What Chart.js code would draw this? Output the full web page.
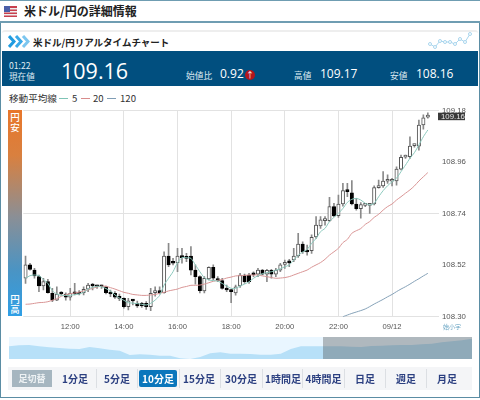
<!DOCTYPE html>
<html lang="ja">
<head>
<meta charset="utf-8">
<script src="https://cdn.jsdelivr.net/npm/chart.js@4"></script>
<style>
html,body{margin:0;padding:0;background:#fff;width:480px;height:400px;overflow:hidden;font-family:"Noto Sans CJK JP","Noto Sans",sans-serif;}
.abs{position:absolute;white-space:nowrap;}
#topline{left:0;top:0;width:480px;height:1px;background:#6f9db2;}
#titleline{left:0;top:21px;width:480px;height:2px;background:#6f9db2;}
#title{left:24px;top:2px;font-size:12px;font-weight:700;color:#222;line-height:18px;}
#frame{left:0;top:23px;width:478px;height:374px;border:1px solid #5b8da4;border-top:none;box-sizing:content-box;}
#card{left:2px;top:30px;width:476px;height:22px;background:#fff;border-top:2px solid #eee;border-radius:3px 3px 0 0;box-sizing:border-box;}
#cardtitle{left:33px;top:35px;font-size:9.5px;font-weight:700;color:#222;line-height:14px;}
#band{left:2px;top:51px;width:476px;height:35px;background:#014f7f;}
#time{left:9px;top:60px;font-size:8.6px;line-height:11px;color:#dfeaf2;}
#now{left:61px;top:57px;font-size:21.5px;line-height:27px;font-family:"Open Sans",sans-serif;color:#fff;}
.lab{font-size:8.7px;line-height:11px;color:#dfeaf2;top:70px;}
.num{font-size:12px;line-height:14px;color:#fff;top:67px;font-family:"Open Sans",sans-serif;}
#up{left:245px;top:70px;width:10px;height:10px;border-radius:50%;background:#b3161d;color:#fff;font-size:8px;line-height:10px;text-align:center;}
#legend{left:9px;top:91px;font-size:9.6px;line-height:14px;color:#333;}
.sw{position:absolute;top:98px;height:1px;width:9px;}
.lv{top:91px;font-size:9.6px;line-height:14px;color:#333;}
#main{left:0;top:100px;width:480px;height:235px;}
#main canvas,#nav canvas{display:block;}
#scale{left:8px;top:110px;width:14px;height:206px;background:linear-gradient(#e8772b 0%,#d9803f 22%,#8a8f96 52%,#4a94c4 78%,#2f9fe6 100%);}
.yen{left:8px;width:14px;text-align:center;color:#fff;font-size:9.5px;line-height:10px;white-space:normal;font-weight:500;}
#hide{left:443px;top:322px;font-size:6px;line-height:9px;color:#6ba6c4;}
#nav{left:9px;top:337px;width:463px;height:22px;background:#e9f6ff;}
#win{left:323px;top:337px;width:149px;height:22px;background:rgba(70,70,70,.35);}
#bar{left:8px;top:367px;width:464px;height:23px;background:#f4f5f7;}
.btn{top:370px;height:17px;line-height:17px;font-size:10px;font-weight:700;color:#2b3f80;text-align:center;}
.sep{top:369px;height:19px;width:1px;background:#dcdfe3;}
</style>
</head>
<body>
<div class="abs" id="topline"></div>
<div class="abs" id="titleline"></div>
<svg class="abs" style="left:4px;top:6px" width="13" height="11"><rect width="13" height="11" fill="#c8404e"/><rect y="2" width="13" height="1.5" fill="#eee"/><rect y="5" width="13" height="1.5" fill="#eee"/><rect y="8" width="13" height="1.5" fill="#eee"/><rect width="6" height="6" fill="#4a5fa8"/></svg>
<div class="abs" id="title">米ドル/円の詳細情報</div>
<div class="abs" id="frame"></div>
<div class="abs" id="card"></div>
<svg class="abs" style="left:8px;top:35px" width="22" height="13"><g fill="none" stroke="#1f9be0" stroke-width="3"><path d="M1 1l5 5.5-5 5.5"/><path d="M8 1l5 5.5-5 5.5" stroke="#3aa9e8"/><path d="M15 1l5 5.5-5 5.5" stroke="#7cc6ef"/></g></svg>
<div class="abs" id="cardtitle">米ドル/円リアルタイムチャート</div>
<svg class="abs" style="left:428px;top:31px" width="48" height="18"><path d="M2 13l5 3 5-6 5 1 5 0 5 2 5-5 5 3 5-8" fill="none" stroke="#a9d6ee" stroke-width="1"/><g fill="#fff" stroke="#a9d6ee"><circle cx="2" cy="13" r="1.5"/><circle cx="7" cy="16" r="1.5"/><circle cx="12" cy="10" r="1.5"/><circle cx="17" cy="11" r="1.5"/><circle cx="22" cy="11" r="1.5"/><circle cx="27" cy="13" r="1.5"/><circle cx="32" cy="8" r="1.5"/><circle cx="37" cy="11" r="1.5"/><circle cx="42" cy="3" r="1.5"/></g></svg>
<div class="abs" id="band"></div>
<div class="abs" id="time">01:22<br>現在値</div>
<div class="abs" id="now">109.16</div>
<div class="abs lab" style="left:186px">始値比</div>
<div class="abs num" style="left:220px">0.92</div>
<div class="abs" id="up">↑</div>
<div class="abs lab" style="left:294px">高値</div>
<div class="abs num" style="left:320px">109.17</div>
<div class="abs lab" style="left:390px">安値</div>
<div class="abs num" style="left:416px">108.16</div>
<div class="abs" id="legend">移動平均線</div>
<div class="sw" style="left:59px;background:#7fc4b6"></div><div class="abs lv" style="left:72px">5</div>
<div class="sw" style="left:81px;background:#d98c8c"></div><div class="abs lv" style="left:93px">20</div>
<div class="sw" style="left:107px;background:#7f9db5"></div><div class="abs lv" style="left:120px">120</div>
<div class="abs" id="main"><canvas id="c" width="480" height="235"></canvas></div>
<div class="abs" id="scale"></div>
<div class="abs yen" style="top:112px">円<br>安</div>
<div class="abs yen" style="top:294px">円<br>高</div>
<div class="abs" id="hide">始小字</div>
<div class="abs" id="nav"><canvas id="n" width="463" height="22"></canvas></div>
<div class="abs" id="win"></div>
<div class="abs" id="bar"></div>
<div class="abs btn" style="left:12px;width:40px;background:#a6b6c0;color:#eef2f4;font-size:9px;">足切替</div>
<div class="abs btn" style="left:55px;width:40px;">1分足</div>
<div class="abs btn" style="left:97px;width:40px;">5分足</div>
<div class="abs btn" style="left:139px;width:38px;background:#0a76bc;color:#fff;border-radius:2px;">10分足</div>
<div class="abs btn" style="left:179px;width:40px;">15分足</div>
<div class="abs btn" style="left:221px;width:40px;">30分足</div>
<div class="abs btn" style="left:263px;width:40px;">1時間足</div>
<div class="abs btn" style="left:303px;width:41px;">4時間足</div>
<div class="abs btn" style="left:345px;width:40px;">日足</div>
<div class="abs btn" style="left:386px;width:40px;">週足</div>
<div class="abs btn" style="left:427px;width:40px;">月足</div>
<div class="abs sep" style="left:96px"></div><div class="abs sep" style="left:137px"></div><div class="abs sep" style="left:179px"></div><div class="abs sep" style="left:220px"></div><div class="abs sep" style="left:262px"></div><div class="abs sep" style="left:302px"></div><div class="abs sep" style="left:344px"></div><div class="abs sep" style="left:385px"></div><div class="abs sep" style="left:426px"></div>
<script>
const categories=['10:20','10:30','10:40','10:50','11:00','11:10','11:20','11:30','11:40','11:50','12:00','12:10','12:20','12:30','12:40','12:50','13:00','13:10','13:20','13:30','13:40','13:50','14:00','14:10','14:20','14:30','14:40','14:50','15:00','15:10','15:20','15:30','15:40','15:50','16:00','16:10','16:20','16:30','16:40','16:50','17:00','17:10','17:20','17:30','17:40','17:50','18:00','18:10','18:20','18:30','18:40','18:50','19:00','19:10','19:20','19:30','19:40','19:50','20:00','20:10','20:20','20:30','20:40','20:50','21:00','21:10','21:20','21:30','21:40','21:50','22:00','22:10','22:20','22:30','22:40','22:50','23:00','23:10','23:20','23:30','23:40','23:50','09/12','00:10','00:20','00:30','00:40','00:50','01:00','01:10','01:20','',''];
const tickLabels=['12:00','14:00','16:00','18:00','20:00','22:00','09/12'];
const yTicks=[108.30,108.52,108.74,108.96,109.18];
const gridTicks=[108.30,108.74,109.18];
const opens=[108.464,108.521,108.499,108.471,108.431,108.450,108.400,108.371,108.400,108.397,108.383,108.400,108.399,108.403,108.418,108.438,108.430,108.429,108.428,108.403,108.400,108.383,108.378,108.343,108.369,108.357,108.357,108.357,108.343,108.403,108.410,108.403,108.559,108.530,108.530,108.559,108.556,108.559,108.499,108.471,108.410,108.461,108.511,108.459,108.454,108.418,108.414,108.402,108.431,108.478,108.478,108.482,108.482,108.499,108.482,108.498,108.482,108.499,108.523,108.535,108.542,108.559,108.610,108.582,108.582,108.641,108.687,108.710,108.710,108.770,108.731,108.781,108.841,108.829,108.781,108.761,108.775,108.775,108.781,108.851,108.858,108.878,108.878,108.879,108.930,108.981,108.983,109.030,109.028,109.118,109.152];
const closes=[108.521,108.502,108.474,108.431,108.450,108.403,108.371,108.397,108.397,108.383,108.400,108.398,108.397,108.417,108.435,108.431,108.428,108.428,108.403,108.397,108.383,108.378,108.343,108.368,108.367,108.346,108.346,108.343,108.400,108.411,108.403,108.559,108.521,108.528,108.559,108.552,108.549,108.499,108.471,108.411,108.464,108.511,108.464,108.454,108.421,108.414,108.407,108.428,108.478,108.449,108.449,108.479,108.499,108.482,108.498,108.482,108.499,108.521,108.532,108.530,108.559,108.610,108.577,108.576,108.639,108.691,108.713,108.713,108.770,108.730,108.781,108.838,108.834,108.781,108.761,108.779,108.778,108.778,108.851,108.858,108.879,108.881,108.881,108.930,108.980,108.984,109.028,109.033,109.118,109.149,109.160];
const highs=[108.559,108.528,108.506,108.478,108.464,108.459,108.421,108.428,108.407,108.402,108.421,108.442,108.411,108.428,108.442,108.442,108.435,108.435,108.431,108.414,108.407,108.397,108.381,108.378,108.374,108.367,108.361,108.364,108.421,108.428,108.428,108.577,108.613,108.549,108.592,108.592,108.570,108.599,108.521,108.474,108.471,108.513,108.521,108.471,108.464,108.435,108.417,108.435,108.485,108.482,108.485,108.492,108.506,108.502,108.502,108.502,108.506,108.528,108.542,108.545,108.592,108.656,108.620,108.606,108.649,108.727,108.727,108.727,108.809,108.784,108.819,108.869,108.869,108.881,108.805,108.787,108.784,108.784,108.858,108.883,108.919,108.905,108.891,108.940,108.990,108.990,109.068,109.037,109.139,109.161,109.170];
const lows=[108.442,108.499,108.464,108.407,108.414,108.400,108.364,108.368,108.393,108.371,108.371,108.393,108.393,108.393,108.407,108.414,108.421,108.421,108.397,108.385,108.378,108.368,108.336,108.329,108.350,108.340,108.340,108.331,108.326,108.388,108.397,108.400,108.513,108.521,108.492,108.528,108.535,108.478,108.439,108.402,108.402,108.457,108.457,108.449,108.417,108.407,108.360,108.392,108.425,108.442,108.442,108.471,108.471,108.478,108.449,108.464,108.471,108.492,108.506,108.513,108.535,108.553,108.570,108.563,108.570,108.634,108.677,108.691,108.706,108.727,108.724,108.772,108.812,108.777,108.755,108.720,108.770,108.741,108.777,108.848,108.852,108.869,108.858,108.861,108.926,108.976,108.976,109.023,109.011,109.100,109.147];
const ma5=[108.464,108.475,108.478,108.475,108.459,108.442,108.411,108.397,108.391,108.391,108.391,108.394,108.397,108.404,108.418,108.425,108.430,108.428,108.420,108.410,108.393,108.380,108.370,108.360,108.358,108.356,108.353,108.350,108.357,108.371,108.391,108.435,108.464,108.492,108.530,108.552,108.552,108.549,108.521,108.492,108.467,108.457,108.454,108.452,108.442,108.431,108.421,108.421,108.431,108.439,108.449,108.464,108.475,108.484,108.488,108.492,108.498,108.505,108.513,108.521,108.542,108.562,108.576,108.587,108.613,108.634,108.663,108.677,108.706,108.724,108.741,108.762,108.788,108.801,108.805,108.798,108.784,108.777,108.784,108.812,108.838,108.859,108.876,108.891,108.919,108.947,108.976,109.000,109.033,109.068,109.097];
const ma20=[108.353,108.354,108.357,108.360,108.361,108.364,108.370,108.377,108.387,108.394,108.398,108.401,108.405,108.410,108.415,108.421,108.427,108.430,108.430,108.424,108.418,108.411,108.404,108.400,108.395,108.393,108.391,108.391,108.393,108.395,108.400,108.404,108.410,108.414,108.418,108.425,108.429,108.434,108.434,108.435,108.439,108.445,108.451,108.455,108.459,108.465,108.469,108.474,108.475,108.476,108.478,108.478,108.478,108.474,108.471,108.467,108.464,108.465,108.467,108.471,108.478,108.485,108.492,108.499,108.511,108.521,108.531,108.545,108.563,108.577,108.592,108.616,108.630,108.656,108.667,108.676,108.694,108.706,108.724,108.737,108.755,108.770,108.781,108.798,108.812,108.827,108.841,108.858,108.879,108.897,108.915];
const ma120=[null,null,null,null,null,null,null,null,null,null,null,null,null,null,null,null,null,null,null,null,null,null,null,null,null,null,null,null,null,null,null,null,null,null,null,null,null,null,null,null,null,null,null,null,null,null,null,null,null,null,null,null,null,null,null,null,null,null,null,null,null,null,null,null,null,null,null,null,null,null,null,108.300,108.307,108.314,108.320,108.326,108.333,108.343,108.354,108.364,108.374,108.385,108.395,108.407,108.418,108.428,108.439,108.451,108.462,108.474,108.485];
const overview=[38,41,42,38,35,33,31,30,36,32,28,25,12,14,13,10,10,2,0,6,17,20,16,16,15,13,13,16,30,38,38,38,38,38,37,36,39,40,41,42,42,44,46,50,53,56,61];
const currentPrice=109.16;

const bodies=opens.map((o,i)=>[o,closes[i]]);
const wicks=highs.map((h,i)=>[lows[i],h]);
const priceTag={id:'priceTag',afterDraw(ch){
  const y=ch.scales.y.getPixelForValue(currentPrice),x=ch.chartArea.right-1,g=ch.ctx;
  g.save();g.fillStyle='#3a3a3a';g.fillRect(x,y-2.5,27,7.5);
  g.fillStyle='#e8e8e8';g.font='7.8px "Liberation Sans"';g.textBaseline='middle';g.textAlign='left';
  g.fillText(currentPrice.toFixed(2),x+3,y+1.3);g.restore();
}};
const line=(d,c)=>({type:'line',data:d,borderColor:c,borderWidth:1,pointRadius:0,tension:0.25,order:0,spanGaps:false});
new Chart(document.getElementById('c'),{
  data:{labels:categories,datasets:[
    {type:'bar',data:wicks,backgroundColor:'#8a8a8a',borderWidth:0,barThickness:1,grouped:false,order:3},
    {type:'bar',data:bodies,backgroundColor:opens.map((o,i)=>closes[i]>=o?'#fff':'#000'),borderColor:opens.map((o,i)=>closes[i]>=o?'#555':'#000'),borderWidth:1,borderSkipped:false,barThickness:3.4,minBarLength:2,grouped:false,order:2},
    line(ma5,'#8cc9bd'),line(ma20,'#d99595'),line(ma120,'#86a2b8')
  ]},
  plugins:[priceTag],
  options:{responsive:false,animation:false,events:[],
    layout:{padding:{left:23.3,right:0,top:10.5,bottom:0}},
    plugins:{legend:{display:false},tooltip:{enabled:false}},
    scales:{
      x:{offset:true,border:{display:false},
        grid:{offset:false,drawTicks:false,color:c=>c.tick&&tickLabels.includes(categories[c.index])?'#e2e2e2':'rgba(0,0,0,0)'},
        afterFit:s=>{s.height=18.3;},
        ticks:{autoSkip:false,maxRotation:0,padding:6,color:'#555',font:{family:'"Liberation Sans"',size:7.6},
          callback:(v,i)=>tickLabels.includes(categories[i])?categories[i]:''}},
      y:{position:'right',min:108.30,max:109.18,border:{display:false},
        afterBuildTicks:s=>{s.ticks=yTicks.map(v=>({value:v}));},
        afterFit:s=>{s.width=41;},
        grid:{drawTicks:false,color:c=>c.tick&&gridTicks.includes(c.tick.value)?'#e2e2e2':'rgba(0,0,0,0)'},
        ticks:{padding:3,color:'#555',font:{family:'"Liberation Sans"',size:7.8},callback:v=>Number(v).toFixed(2)}}
    }
  }
});
new Chart(document.getElementById('n'),{
  type:'line',
  data:{labels:overview.map((_,i)=>i),datasets:[{data:overview,fill:'origin',backgroundColor:'#b7e0f8',borderWidth:0,pointRadius:0,tension:0}]},
  options:{responsive:false,animation:false,events:[],layout:{padding:0},
    plugins:{legend:{display:false},tooltip:{enabled:false}},
    scales:{x:{display:false},y:{display:false,min:0,max:66}}}
});
</script>
</body>
</html>
